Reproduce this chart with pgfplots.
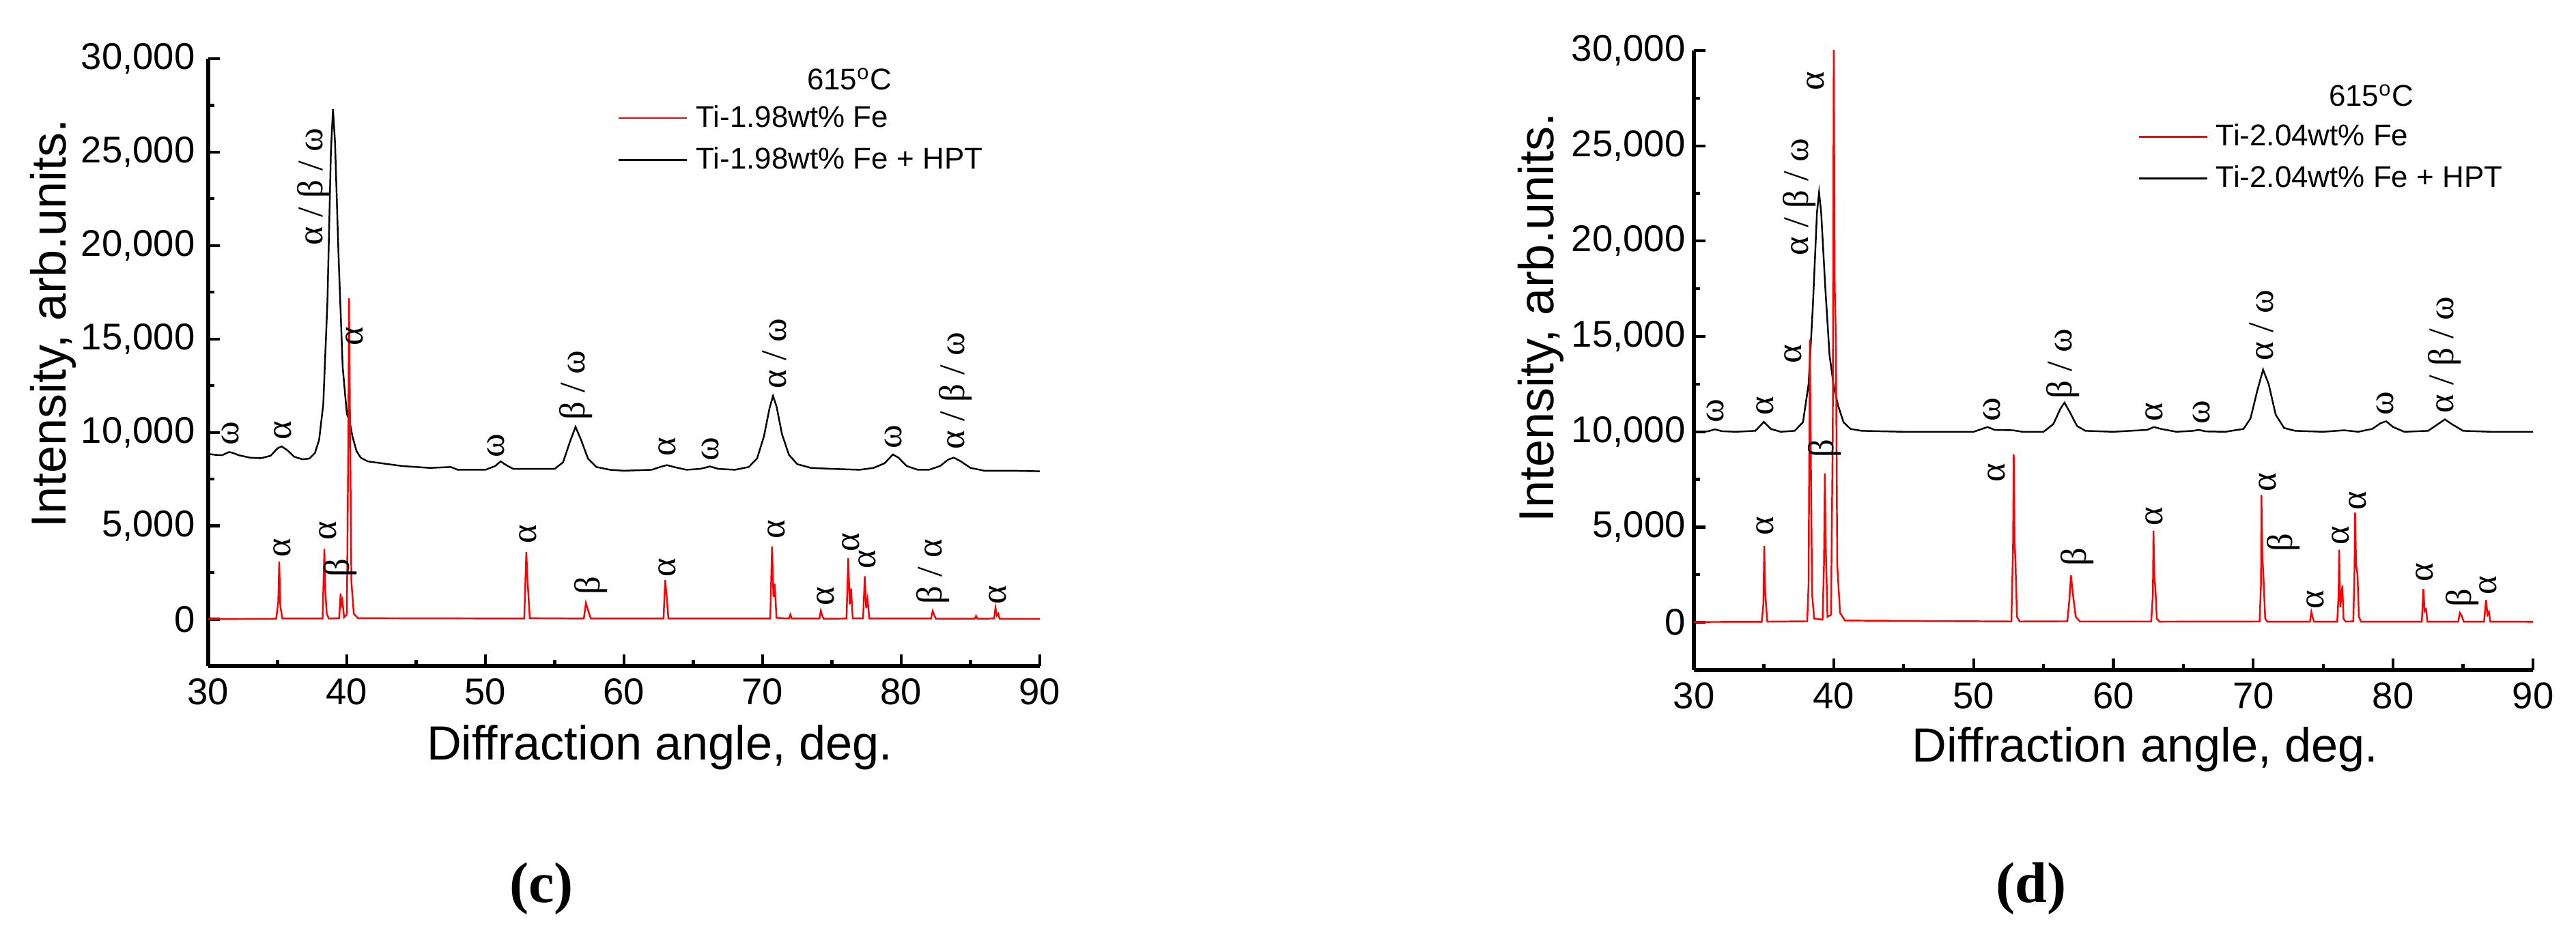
\documentclass[border=0pt]{standalone}
\usepackage{fontspec}
\setmainfont{Liberation Sans}
\newfontfamily\grk{Liberation Serif}
\usepackage{pgfplots}
\pgfplotsset{compat=1.18}

\tikzset{
  ann/.style={rotate=90, anchor=west, inner sep=0pt, font=\grk\fontsize{15}{18}\selectfont},
  curve/.style={line width=0.7pt},
}
\pgfplotsset{
  xrd/.style={
    scale only axis,
    anchor=south west,
    axis x line*=bottom, axis y line*=left,
    xmin=30, xmax=90, ymin=-2500, ymax=30000,
    xtick={30,40,...,90}, minor x tick num=1,
    ytick={0,5000,...,30000}, minor y tick num=1,
    scaled y ticks=false,
    tick align=inside,
    major tick length=0.17cm, minor tick length=0.09cm,
    axis line style={line width=1.5pt},
    every tick/.style={line width=1.2pt, black},
    tick label style={font=\fontsize{15.5}{18}\selectfont},
    xticklabel style={yshift=-0.06cm},
    /pgf/number format/assume math mode=true,
    /pgf/number format/1000 sep={,},
    legend style={draw=none, fill=none, font=\fontsize{12.5}{15}\selectfont,
      anchor=north west, nodes={inner sep=0.12cm}},
    legend cell align=left,
    legend image code/.code={\draw[#1] (0cm,0cm) -- (1.0cm,0cm);},
  },
}
\newcommand{\lab}[3]{\node[ann] at (axis cs:#1,#2) {#3};}

\begin{document}
\begin{tikzpicture}
\path[use as bounding box] (0,0) rectangle (37.73cm,13.57cm);

% ---------- (c) ----------
\begin{axis}[xrd,
    at={(3.05cm,3.81cm)}, width=12.18cm, height=8.90cm,
    yticklabel style={xshift=-0.07cm},
    every axis x label/.style={at={(axis description cs:0.543,0)}, anchor=north,
      yshift=-0.86cm, inner sep=0pt, font=\fontsize{20}{24}\selectfont},
    every axis y label/.style={at={(axis description cs:-0.1585,0.564)}, rotate=90,
      anchor=south, inner sep=0pt, font=\fontsize{20.5}{24}\selectfont},
    xlabel={Diffraction angle, deg.},
    ylabel={Intensity, arb.units.},
    legend style={at={(rel axis cs:0.4836,0.945)}},
]
\addlegendimage{red, curve}\addlegendentry{Ti-1.98wt\% Fe}
\addlegendimage{black, curve}\addlegendentry{Ti-1.98wt\% Fe + HPT}
\addplot[black, curve, forget plot] coordinates {
(30,8850) (30.5,8800) (31,8780) (31.5,8950) (31.8,8900) (32.2,8780) (33,8650)
(33.8,8620) (34.5,8750) (35.0,9150) (35.3,9250) (35.7,9050) (36.2,8700)
(36.8,8560) (37.3,8600) (37.7,8900) (38.0,9600) (38.3,11500) (38.6,17000)
(38.85,25000) (39.0,27300) (39.15,25500) (39.4,19500) (39.7,13500) (40.0,11000)
(40.2,10600) (40.4,9800) (40.7,9000) (41.0,8650) (41.5,8450) (42.5,8350)
(44,8200) (46,8100) (47.5,8150) (48,8000) (50,8000) (50.7,8200) (51.1,8450)
(51.5,8250) (52,8050) (53.5,8050) (55,8050) (55.6,8400) (56.1,9500)
(56.5,10300) (56.9,9600) (57.4,8600) (58,8150) (59,8000) (60,7950) (62,8000)
(62.6,8150) (63.1,8250) (63.6,8150) (64.5,8000) (65.5,8050) (66.2,8180)
(66.8,8050) (68,8000) (69,8150) (69.6,8600) (70.1,9800) (70.5,11300)
(70.75,11950) (71.0,11400) (71.4,9900) (71.9,8800) (72.5,8300) (73.5,8100)
(75,8050) (77,8000) (78,8100) (78.8,8350) (79.4,8820) (79.8,8650) (80.4,8200)
(81.2,8000) (82,8000) (82.8,8200) (83.4,8550) (83.8,8650) (84.3,8450)
(85,8100) (86,7950) (88,7950) (90,7920)
};
\addplot[red, curve, forget plot] coordinates {
(30,10) (34.9,30) (35.05,900) (35.12,3080) (35.2,700) (35.35,40) (38.25,40)
(38.38,3770) (38.45,1500) (38.55,300) (38.7,40) (39.45,60) (39.55,1380)
(39.62,800) (39.68,1000) (39.8,100) (40.0,250) (40.1,9000) (40.16,17180)
(40.23,10500) (40.33,2000) (40.5,300) (40.8,60) (52.8,40) (52.95,3590)
(53.03,2200) (53.2,60) (57.1,40) (57.25,870) (57.4,500) (57.6,40) (62.85,40)
(62.97,2100) (63.07,1300) (63.2,40) (70.55,40) (70.68,3900) (70.78,1200)
(70.87,1900) (71.0,80) (71.9,40) (72.0,260) (72.1,40) (74.1,40) (74.2,460)
(74.3,200) (74.4,30) (76.05,40) (76.18,3260) (76.28,800) (76.38,1640)
(76.5,50) (77.25,50) (77.37,2300) (77.47,600) (77.57,1080) (77.7,40)
(82.15,40) (82.27,440) (82.4,200) (82.5,30) (85.3,30) (85.4,180) (85.5,30)
(86.7,40) (86.8,620) (86.9,200) (87.0,300) (87.1,30) (90,20)
};
\node[font=\fontsize{12.5}{15}\selectfont] at (axis cs:76.26,28900) {615\textsuperscript{o}C};
% HPT peaks
\lab{31.61}{9280}{ω}
\lab{35.37}{9590}{α}
\lab{37.63}{20000}{α / β / ω}
\lab{40.54}{14620}{α}
\lab{50.78}{8640}{ω}
\lab{56.51}{10620}{β / ω}
\lab{63.13}{8720}{α}
\lab{66.24}{8460}{ω}
\lab{70.86}{12310}{α / ω}
\lab{79.45}{9100}{ω}
\lab{83.92}{9080}{α / β / ω}
% initial state peaks
\lab{35.32}{3310}{α}
\lab{38.63}{4200}{α}
\lab{39.54}{2230}{β}
\lab{53.09}{4030}{α}
\lab{57.61}{1280}{β}
\lab{63.13}{2230}{α}
\lab{71.02}{4280}{α}
\lab{74.53}{690}{α}
\lab{76.39}{3590}{α}
\lab{77.54}{2670}{α}
\lab{82.31}{770}{β / α}
\lab{86.98}{770}{α}
\end{axis}

% ---------- (d) ----------
\begin{axis}[xrd,
    at={(24.81cm,3.75cm)}, width=12.29cm, height=9.08cm,
    every axis x label/.style={at={(axis description cs:0.538,0)}, anchor=north,
      yshift=-0.83cm, inner sep=0pt, font=\fontsize{20}{24}\selectfont},
    every axis y label/.style={at={(axis description cs:-0.1546,0.569)}, rotate=90,
      anchor=south, inner sep=0pt, font=\fontsize{20.5}{24}\selectfont},
    xlabel={Diffraction angle, deg.},
    ylabel={Intensity, arb.units.},
    legend style={at={(rel axis cs:0.520,0.903)}},
]
\addlegendimage{red, curve}\addlegendentry{Ti-2.04wt\% Fe}
\addlegendimage{black, curve}\addlegendentry{Ti-2.04wt\% Fe + HPT}
\addplot[black, curve, forget plot] coordinates {
(30,10000) (31,10020) (31.5,10130) (32,10030) (33,10000) (34.4,10050)
(35.0,10520) (35.5,10150) (36.2,10000) (37.2,10050) (37.8,10500) (38.2,12500)
(38.5,16500) (38.8,21500) (38.95,22560) (39.1,21500) (39.4,17500) (39.7,14000)
(40.0,12400) (40.3,11400) (40.7,10500) (41.2,10150) (42,10050) (45,10000)
(50,10000) (50.6,10150) (51.0,10250) (51.5,10100) (52.8,10080) (53.5,10000)
(55,10000) (55.7,10400) (56.2,11200) (56.5,11530) (56.9,11000) (57.4,10300)
(58,10050) (60,10000) (62.4,10100) (62.9,10250) (63.4,10150) (64.5,10000)
(65.7,10050) (66.1,10100) (66.6,10020) (68,10000) (69.3,10150) (69.8,10700)
(70.3,12200) (70.7,13260) (71.1,12500) (71.6,10900) (72.2,10200) (73,10050)
(75,10000) (76.5,10080) (77.5,10000) (78.5,10150) (79.1,10450) (79.5,10550)
(80,10250) (80.8,10000) (82.5,10050) (83.2,10400) (83.7,10650) (84.2,10400)
(85,10050) (87,10000) (90,10000)
};
\addplot[red, curve, forget plot] coordinates {
(30,20) (34.85,30) (34.97,1000) (35.03,4010) (35.1,1500) (35.25,40) (38.1,60)
(38.2,2000) (38.29,14840) (38.36,9000) (38.45,1500) (38.6,200) (39.2,150)
(39.3,3000) (39.36,7820) (39.43,4000) (39.55,300) (39.8,400) (39.93,10000)
(40.0,30500) (40.07,17600) (40.15,15000) (40.25,3000) (40.45,500) (40.8,100)
(52.7,50) (52.82,4000) (52.87,8820) (52.93,4360) (53.0,3000) (53.1,300)
(53.3,50) (56.7,60) (56.85,1200) (56.96,2480) (57.1,1500) (57.3,300) (57.6,50)
(62.7,50) (62.82,1500) (62.86,4810) (62.93,2300) (63.0,1800) (63.1,200)
(63.3,40) (70.45,50) (70.55,2000) (70.58,6690) (70.65,3430) (70.72,2500)
(70.85,200) (71.0,40) (74.05,40) (74.15,550) (74.25,250) (74.35,40) (76.0,40)
(76.1,1500) (76.14,3810) (76.22,800) (76.37,1930) (76.45,200) (76.6,40)
(77.15,60) (77.23,2500) (77.28,5760) (77.35,3060) (77.45,2500) (77.55,300)
(77.7,40) (82.05,40) (82.16,1750) (82.25,600) (82.35,700) (82.45,40)
(84.65,40) (84.77,500) (84.9,350) (85.05,40) (86.5,40) (86.64,1180)
(86.75,400) (86.85,550) (86.95,40) (90,30)
};
\node[font=\fontsize{12.5}{15}\selectfont] at (axis cs:78.43,27640) {615\textsuperscript{o}C};
% HPT peaks
\lab{31.53}{10450}{ω}
\lab{35.11}{10830}{α}
\lab{37.55}{19220}{α / β / ω}
\lab{38.68}{27870}{α}
\lab{37.09}{13580}{α}
\lab{39.36}{8620}{β}
\lab{51.28}{10530}{ω}
\lab{56.39}{11700}{β / ω}
\lab{62.92}{10530}{α}
\lab{66.27}{10380}{ω}
\lab{70.58}{13710}{α / ω}
\lab{79.43}{10830}{ω}
\lab{83.69}{10950}{α / β / ω}
% initial state peaks
\lab{35.11}{4560}{α}
\lab{51.62}{7320}{α}
\lab{57.41}{2930}{β}
\lab{62.92}{5060}{α}
\lab{71.03}{6820}{α}
\lab{72.17}{3680}{β}
\lab{74.44}{680}{α}
\lab{76.25}{4060}{α}
\lab{77.45}{5860}{α}
\lab{82.27}{2110}{α}
\lab{84.94}{800}{β}
\lab{86.81}{1430}{α}
\end{axis}

\node[font=\grk\bfseries\fontsize{24}{28}\selectfont] at (7.93cm,0.55cm) {(c)};
\node[font=\grk\bfseries\fontsize{24}{28}\selectfont] at (29.75cm,0.55cm) {(d)};
\end{tikzpicture}
\end{document}
